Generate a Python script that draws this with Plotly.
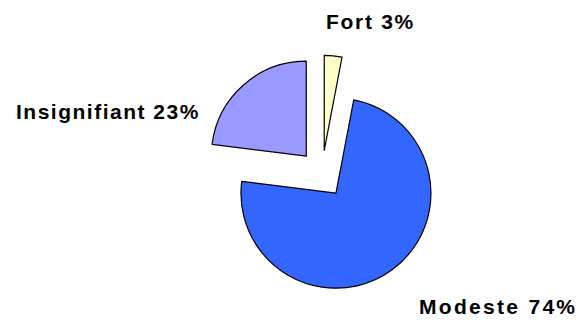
import plotly.graph_objects as go

# Slice data, in drawing order (clockwise from 12 o'clock)
categories = ["Fort", "Modeste", "Insignifiant"]
shares = [3, 74, 23]
slice_colors = ["#FFFFCC", "#3366FF", "#9999FF"]

# Label anchor points (pixels from top-left) and tracking, one per category
label_px = [370.5, 498, 107.7]
label_py = [21, 306, 111]
label_spacing = [1.7, 2.3, 1.5]

W, H = 581, 320

fig = go.Figure(
    go.Pie(
        labels=categories,
        values=shares,
        marker=dict(colors=slice_colors, line=dict(color="black", width=1.2)),
        pull=[0.25] * len(shares),
        sort=False,
        direction="clockwise",
        rotation=0,
        textinfo="none",
        hoverinfo="label+percent",
        showlegend=False,
        domain=dict(x=[0.3498, 0.7586], y=[0.0852, 0.8273]),
    )
)

total = sum(shares)
for name, val, px, py, ls in zip(categories, shares, label_px, label_py, label_spacing):
    pct = round(100 * val / total)
    fig.add_annotation(
        text=f'<span style="letter-spacing:{ls}px">{name} {pct}%</span>',
        x=px / W,
        y=1 - py / H,
        xref="paper",
        yref="paper",
        xanchor="center",
        yanchor="middle",
        showarrow=False,
        font=dict(family="Liberation Sans, Arial, sans-serif", size=21, color="black", weight="bold"),
    )

fig.update_layout(
    width=W,
    height=H,
    margin=dict(l=0, r=0, t=0, b=0),
    paper_bgcolor="white",
    plot_bgcolor="white",
)

fig.write_html("out.html")
